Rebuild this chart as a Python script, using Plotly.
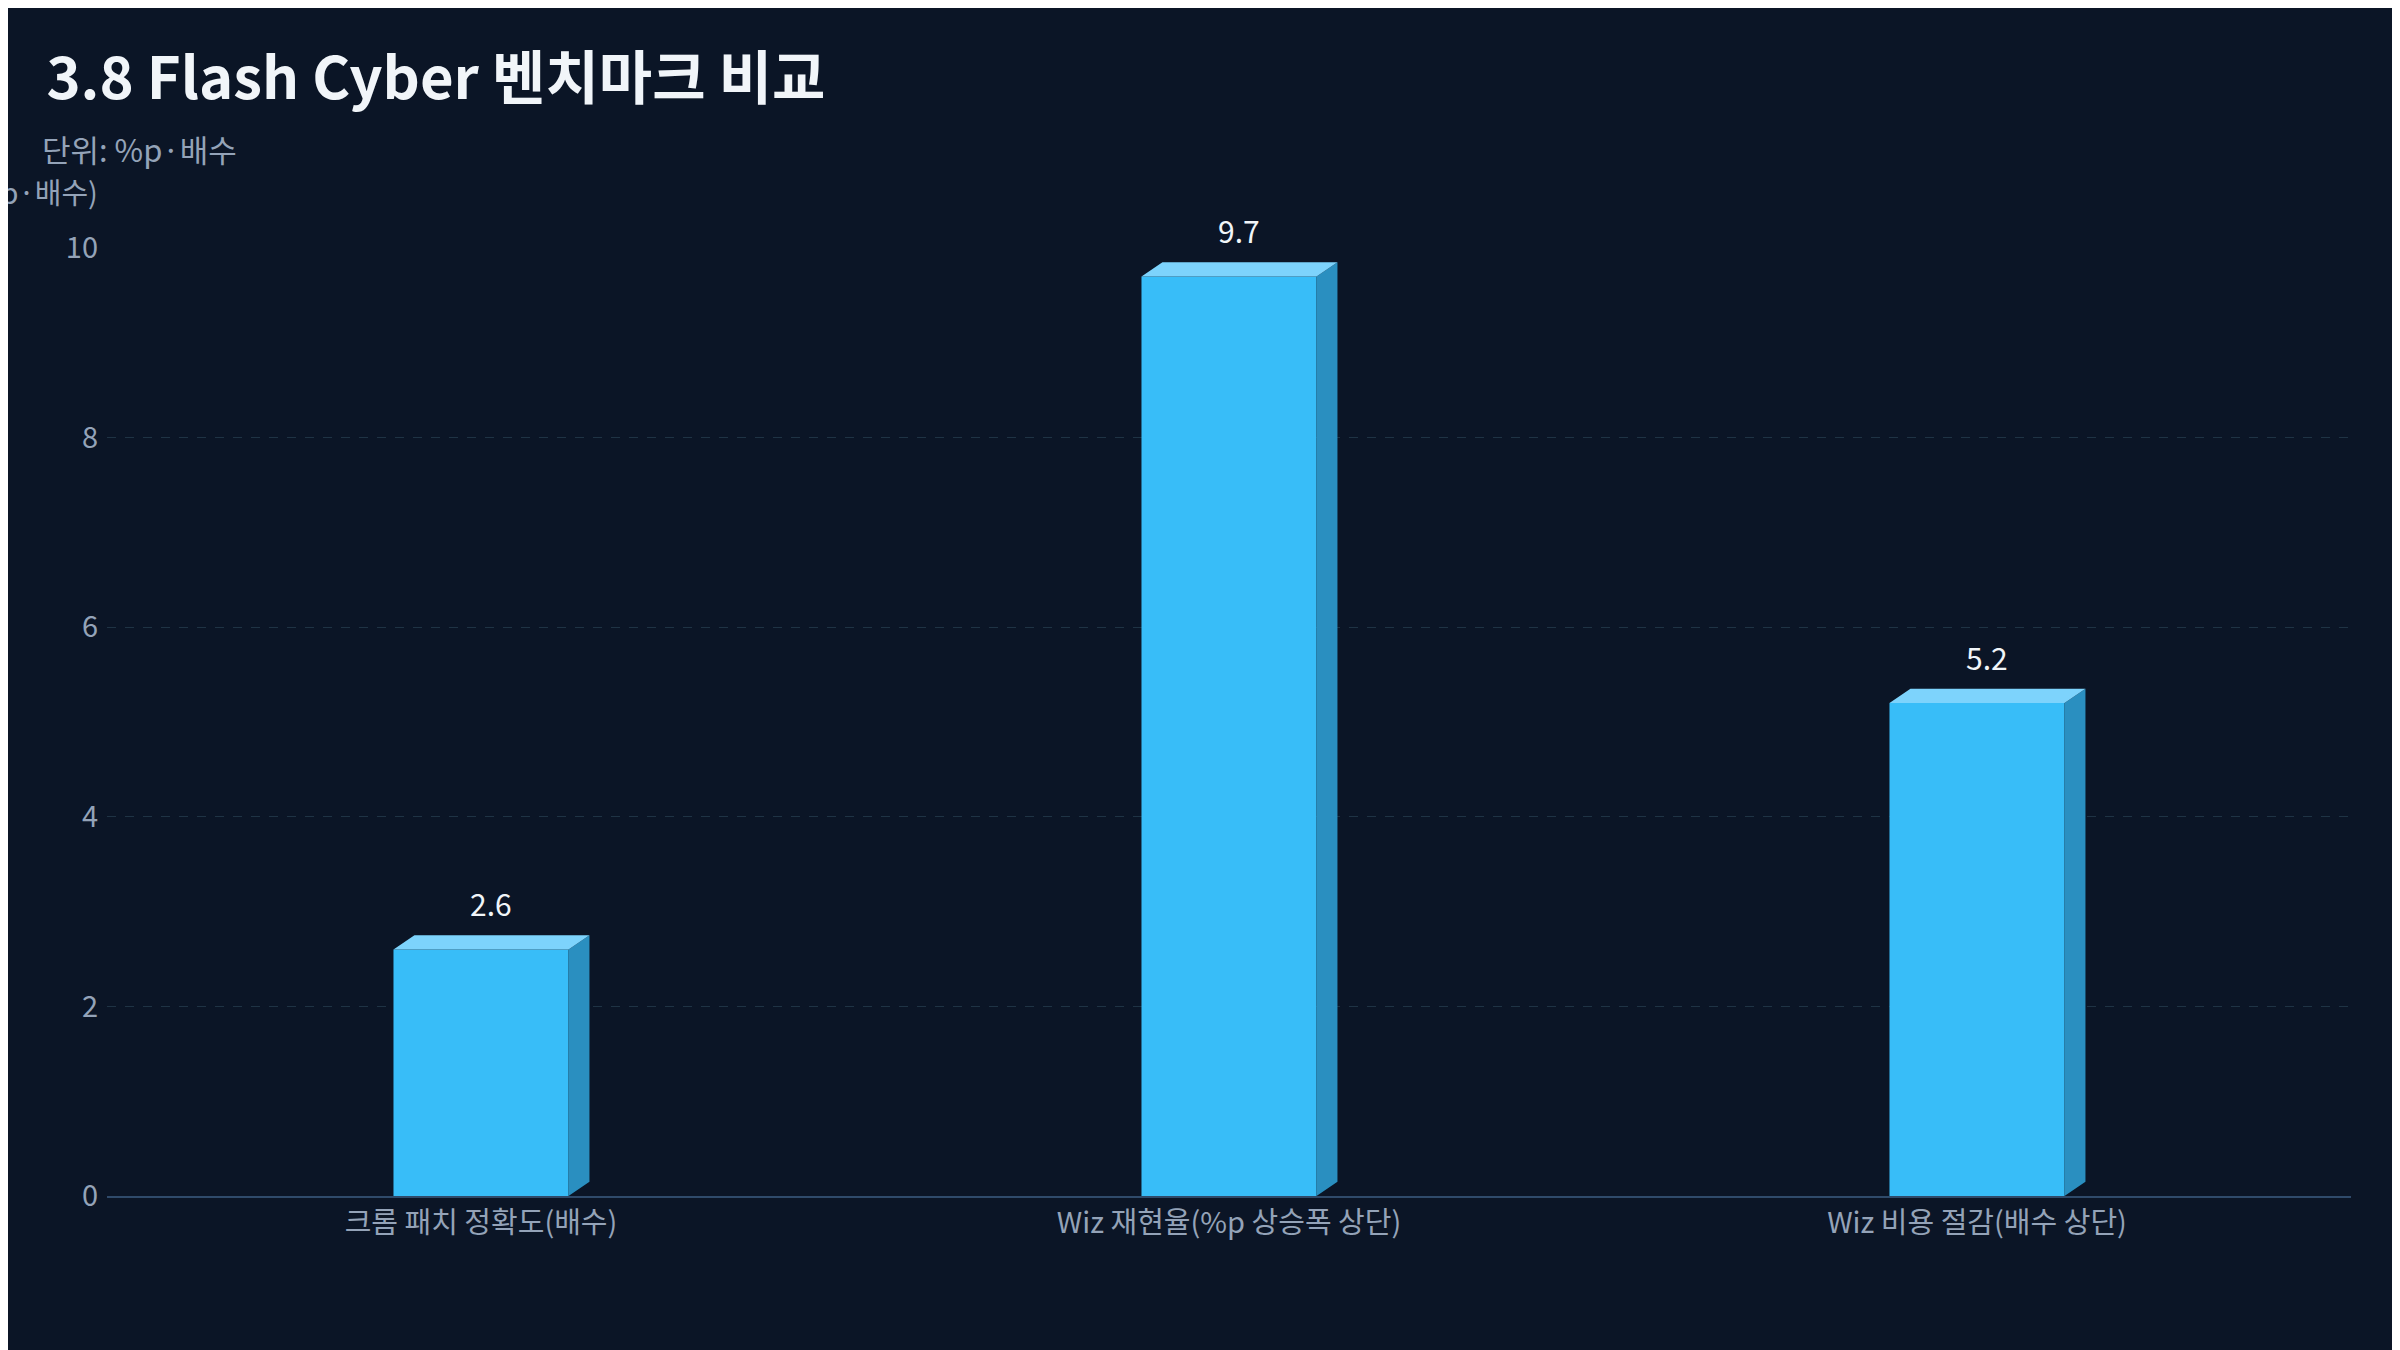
import plotly.graph_objects as go

categories = ["크롬 패치 정확도(배수)", "Wiz 재현율(%p 상승폭 상단)", "Wiz 비용 절감(배수 상단)"]
values = [2.6, 9.7, 5.2]
y_ticks = [0, 2, 4, 6, 8, 10]

FONT = "Noto Sans CJK KR"
BG = "#0b1526"
FRONT = "#38bdf8"
TOP = "#7dd3fc"
SIDE = "#2a8fc0"

xs = list(range(len(categories)))
half_w = 0.117
dx = 0.028
dy = 0.15

fig = go.Figure()
fig.add_trace(go.Bar(x=xs, y=values, width=half_w * 2, marker=dict(color=FRONT, line_width=0),
                     hoverinfo="skip"))

top_x, top_y, side_x, side_y = [], [], [], []
for c, v in zip(xs, values):
    top_x += [c - half_w, c + half_w, c + half_w + dx, c - half_w + dx, c - half_w, None]
    top_y += [v, v, v + dy, v + dy, v, None]
    side_x += [c + half_w, c + half_w + dx, c + half_w + dx, c + half_w, c + half_w, None]
    side_y += [0, dy, v + dy, v, 0, None]

fig.add_trace(go.Scatter(x=side_x, y=side_y, fill="toself", fillcolor=SIDE, mode="lines",
                         line=dict(width=0, color=SIDE), hoverinfo="skip"))
fig.add_trace(go.Scatter(x=top_x, y=top_y, fill="toself", fillcolor=TOP, mode="lines",
                         line=dict(width=0, color=TOP), hoverinfo="skip"))

for c, v in zip(xs, values):
    fig.add_annotation(x=c + dx / 2, y=v + dy, text=f"{v}", showarrow=False, yanchor="bottom",
                       yshift=8, font=dict(family=FONT, size=30, color="#f1f5f9"))

fig.update_layout(
    width=2400, height=1350, paper_bgcolor=BG, plot_bgcolor=BG, showlegend=False,
    margin=dict(l=99, r=57, t=240, b=162),
    font=dict(family=FONT, color="#94a3b8"),
    title=dict(text="<b>3.8 Flash Cyber 벤치마크 비교</b>", x=0.016, xanchor="left",
               y=0.948, yanchor="middle", font=dict(family=FONT, size=58, color="#f1f5f9")),
)
fig.add_annotation(text="단위: %p·배수", xref="paper", yref="paper", x=-0.03, xanchor="left",
                   y=1.105, yanchor="middle", showarrow=False,
                   font=dict(family=FONT, size=31, color="#94a3b8"))
fig.add_annotation(text="(%p·배수)", xref="paper", yref="paper", x=-0.003, xanchor="right",
                   y=1.06, yanchor="middle", showarrow=False,
                   font=dict(family=FONT, size=29, color="#94a3b8"))
fig.add_annotation(text="<b>COPYRIGHT VIZENSOFT Corp. ALL RIGHTS RESERVED.</b>", xref="paper",
                   yref="paper", x=0.5, xanchor="center", y=-0.185, yanchor="middle",
                   showarrow=False, font=dict(family=FONT, size=29, color="#8193ad"))

fig.update_xaxes(tickvals=xs, ticktext=categories, range=[-0.5, 2.5], showgrid=False,
                 showline=True, linecolor="#2f4a6a", linewidth=2, zeroline=False,
                 tickfont=dict(family=FONT, size=29, color="#94a3b8"), ticks="", ticklen=10)
fig.update_yaxes(range=[0, 10], tickvals=y_ticks, showgrid=True, gridcolor="#1f3344",
                 griddash="dash", gridwidth=1, zeroline=False,
                 tickfont=dict(family=FONT, size=29, color="#94a3b8"), ticks="", ticklabelstandoff=8)

fig.write_html("out.html")
